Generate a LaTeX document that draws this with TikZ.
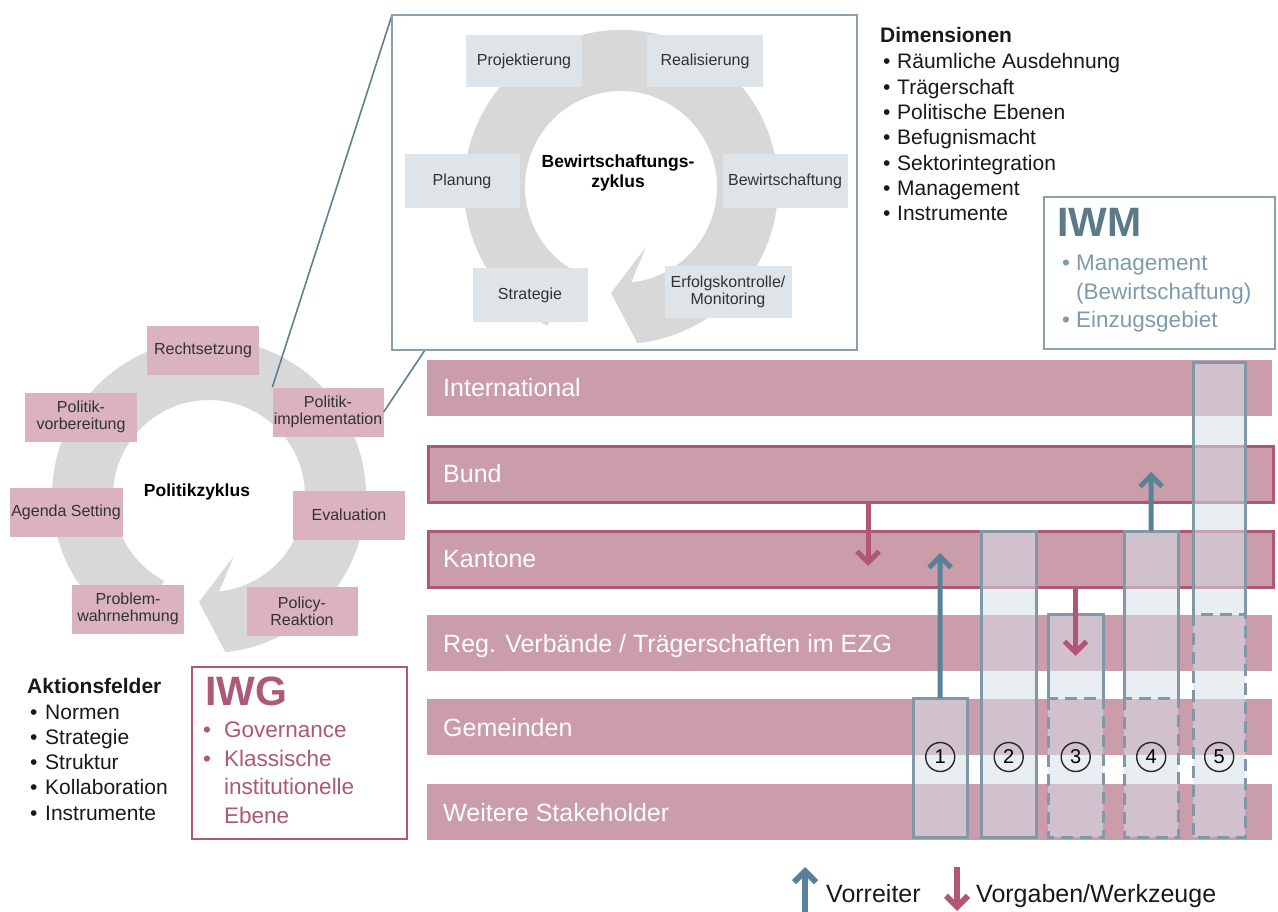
\documentclass[tikz,border=0pt]{standalone}
\usepackage{fontspec}
\setmainfont{Liberation Sans}
\usetikzlibrary{arrows.meta}

\definecolor{ringgray}{RGB}{216,216,216}
\definecolor{cyclebox}{RGB}{222,228,232}
\definecolor{pinkbox}{RGB}{218,178,192}
\definecolor{barpink}{RGB}{203,156,170}
\definecolor{barline}{RGB}{176,86,118}
\definecolor{tealline}{RGB}{95,128,145}
\definecolor{framegray}{RGB}{135,160,172}
\definecolor{colfill}{RGB}{214,225,232}
\definecolor{colline}{RGB}{128,152,168}
\definecolor{iwmtitle}{RGB}{90,122,140}
\definecolor{iwmtext}{RGB}{125,155,172}
\definecolor{iwgcol}{RGB}{172,88,118}
\definecolor{txtdark}{RGB}{50,50,50}
\definecolor{arrowteal}{RGB}{88,130,152}
\definecolor{arrowpink}{RGB}{178,86,120}

\newcommand{\szBox}{\fontsize{16}{17}\selectfont}
\newcommand{\szCenter}{\fontsize{17.5}{20}\selectfont\bfseries}
\newcommand{\szList}{\fontsize{21}{25}\selectfont}
\newcommand{\szSide}{\fontsize{22.5}{28}\selectfont}
\newcommand{\szTitle}{\fontsize{41}{45}\selectfont\bfseries}
\newcommand{\szBar}{\fontsize{25}{30}\selectfont}
\newcommand{\itembul}[1]{\makebox[#1][l]{•}}

% circular process arrow with its head at the bottom, centred at (#1,#2)
\newcommand{\cyclering}[2]{%
  \begin{scope}[shift={(#1,#2)}]
    \fill[ringgray] (118:157) arc[start angle=118, end angle=444, radius=157]
      -- (-10,106) -- (25,60) -- (444:96)
      arc[start angle=444, end angle=118, radius=96] -- cycle;
  \end{scope}}

\begin{document}
\begin{tikzpicture}[x=1pt, y=-1pt,
  cyc/.style={fill=cyclebox, minimum width=#1, minimum height=52pt, inner sep=0pt,
    text=txtdark, font=\szBox, align=center},
  pol/.style={fill=pinkbox, minimum width=#1, minimum height=49pt, inner sep=0pt,
    text=txtdark, font=\szBox, align=center},
  ctitle/.style={font=\szCenter, align=center, text=black, inner sep=0pt},
  listtxt/.style={anchor=base west, inner sep=0pt, font=\szList, text=black!90},
  sidetxt/.style={anchor=base west, inner sep=0pt, font=\szSide},
  bar/.style={fill=barpink, anchor=north west, minimum width=845pt, minimum height=56pt, inner sep=0pt},
  barframe/.style={bar, draw=barline, line width=3pt},
  barlabel/.style={anchor=base west, inner sep=0pt, font=\szBar, text=white},
  colpart/.style={fill=colfill, fill opacity=0.55, anchor=north west, inner sep=0pt, minimum width=#1},
  colsolid/.style={draw=colline, line width=3pt},
  coldash/.style={draw=colline, line width=3pt, dash pattern=on 12pt off 7pt},
  numcirc/.style={circle, draw=black!85, line width=1.4pt, minimum size=29pt, inner sep=0pt,
    font=\fontsize{20}{20}\selectfont},
  uparrow/.style={draw=arrowteal, line width=5pt, -{Straight Barb[length=11pt,width=22pt]}},
  downarrow/.style={draw=arrowpink, line width=5pt, -{Straight Barb[length=11pt,width=22pt]}},
  callout/.style={draw=tealline, line width=1.6pt}]

\useasboundingbox[fill=white] (0,0) rectangle (1278,912);

% ---------- policy cycle ----------
\cyclering{209}{496}
\node[pol=112] (recht) at (203,350) {Rechtsetzung};
\node[pol=112] (vorb) at (81,417) {Politik-\\vorbereitung};
\node[pol=111] (impl) at (328,412) {Politik-\\implementation};
\node[pol=113] (agenda) at (66,512) {Agenda Setting};
\node[pol=112] (eval) at (349,515) {Evaluation};
\node[pol=112] (problem) at (128,609) {Problem-\\wahrnehmung};
\node[pol=111] (policy) at (302,611) {Policy-\\Reaktion};
\node[ctitle] (polz) at (197,492) {Politikzyklus};

% ---------- management cycle (detail box) ----------
\coordinate (zbcorner) at (392,15);
\coordinate (zbfoot) at (425,350);
\draw[callout] (zbcorner) -- (impl.north west);
\draw[callout] (zbfoot) -- (impl.east);
\node[draw=framegray, line width=1.8pt, fill=white, minimum width=465pt, minimum height=335pt,
  inner sep=0pt] (zoombox) at (624.5,182.5) {};

\cyclering{621}{187}
\node[cyc=116] (proj) at (524,61) {Projektierung};
\node[cyc=116] (real) at (705,61) {Realisierung};
\node[cyc=115, minimum height=54pt] (plan) at (462,181) {Planung};
\node[cyc=125, minimum height=54pt] (bew) at (785,181) {Bewirtschaftung};
\node[cyc=115, minimum height=54pt] (strat) at (530,295) {Strategie};
\node[cyc=127] (erf) at (728,292) {Erfolgskontrolle/\\Monitoring};
\node[ctitle] (bewz) at (618,173) {Bewirtschaftungs-\\zyklus};

% ---------- Dimensionen ----------
\node[listtxt, font=\szList\bfseries] (dimtitle) at (880,43) {Dimensionen};
\foreach \t [count=\i] in {Räumliche Ausdehnung, Trägerschaft, Politische Ebenen,
  Befugnismacht, Sektorintegration, Management, Instrumente}
  \node[listtxt] (dim\i) at (883,{69+25.3*(\i-1)}) {\itembul{14pt}\t};

% ---------- Aktionsfelder ----------
\node[listtxt, font=\szList\bfseries] (akttitle) at (27,693) {Aktionsfelder};
\foreach \t [count=\i] in {Normen, Strategie, Struktur, Kollaboration, Instrumente}
  \node[listtxt] (akt\i) at (30,{719+25.3*(\i-1)}) {\itembul{15pt}\t};

% ---------- IWM box ----------
\node[draw=framegray, line width=2pt, minimum width=231pt, minimum height=152pt, inner sep=0pt]
  (iwmbox) at (1159.5,273) {};
\node[sidetxt, font=\szTitle, text=iwmtitle] (iwm) at (1057,237) {IWM};
\node[sidetxt, text=iwmtext] (iwm1) at (1062,271) {\itembul{14pt}Management};
\node[sidetxt, text=iwmtext] (iwm2) at (1076,300) {(Bewirtschaftung)};
\node[sidetxt, text=iwmtext] (iwm3) at (1062,327) {\itembul{14pt}Einzugsgebiet};

% ---------- IWG box ----------
\node[draw=iwgcol, line width=2pt, minimum width=215pt, minimum height=172pt, inner sep=0pt]
  (iwgbox) at (299.5,753) {};
\node[sidetxt, font=\szTitle, text=iwgcol] (iwg) at (205,705) {IWG};
\node[sidetxt, text=iwgcol] (iwg1) at (203,737) {\itembul{21pt}Governance};
\node[sidetxt, text=iwgcol] (iwg2) at (203,766) {\itembul{21pt}Klassische};
\node[sidetxt, text=iwgcol] (iwg3) at (224,794) {institutionelle};
\node[sidetxt, text=iwgcol] (iwg4) at (224,823) {Ebene};

% ---------- levels ----------
\node[bar] (intl) at (427,360) {};
\node[barframe] (bund) at (427,445) {};
\node[barframe] (kant) at (427,530) {};
\node[bar] (reg) at (427,615) {};
\node[bar] (gem) at (427,699) {};
\node[bar] (stake) at (427,784) {};
\node[barlabel] (lintl) at (443,396) {International};
\node[barlabel] (lbund) at (443,482) {Bund};
\node[barlabel] (lkant) at (443,567) {Kantone};
\node[barlabel] (lreg) at (443,652) {Reg. Verbände / Trägerschaften im EZG};
\node[barlabel] (lgem) at (443,736) {Gemeinden};
\node[barlabel] (lstake) at (443,821) {Weitere Stakeholder};

% ---------- actor columns ----------
% 1
\node[colpart=54pt, minimum height=139pt] (c1) at (913,698) {};
\draw[colsolid] (c1.north west) rectangle (c1.south east);
% 2
\node[colpart=55pt, minimum height=306pt] (c2) at (981,531) {};
\draw[colsolid] (c2.north west) rectangle (c2.south east);
% 3
\node[colpart=55pt, minimum height=84pt] (c3) at (1048,614) {};
\node[colpart=55pt, minimum height=139pt] (c3l) at (1048,698) {};
\draw[colsolid] (c3.south west) -- (c3.north west) -- (c3.north east) -- (c3.south east);
\draw[coldash] (c3l.north west) rectangle (c3l.south east);
% 4
\node[colpart=54pt, minimum height=167pt] (c4) at (1124,531) {};
\node[colpart=54pt, minimum height=139pt] (c4l) at (1124,698) {};
\draw[colsolid] (c4.south west) -- (c4.north west) -- (c4.north east) -- (c4.south east);
\draw[coldash] (c4l.north west) rectangle (c4l.south east);
% 5
\node[colpart=52pt, minimum height=252pt] (c5) at (1193,362) {};
\node[colpart=52pt, minimum height=223pt] (c5l) at (1193,614) {};
\draw[colsolid] (c5.south west) -- (c5.north west) -- (c5.north east) -- (c5.south east);
\draw[coldash] (c5l.north west) rectangle (c5l.south east);

% ---------- arrows between levels ----------
\coordinate (tipbk) at (868,566);
\draw[downarrow] (bund.south -| tipbk) -- (tipbk);
\coordinate (tip1) at (940,553);
\draw[uparrow] (c1.north) -- (tip1);
\coordinate (tip3) at (1075.5,656);
\draw[downarrow] (kant.south -| tip3) -- (tip3);
\coordinate (tip4) at (1151,472);
\draw[uparrow] (c4.north) -- (tip4);

% ---------- column numbers ----------
\node[numcirc] (n1) at (c1.north |- 0,757) {1};
\node[numcirc] (n2) at (c2.north |- 0,757) {2};
\node[numcirc] (n3) at (c3.north |- 0,757) {3};
\node[numcirc] (n4) at (c4.north |- 0,757) {4};
\node[numcirc] (n5) at (c5.north |- 0,757) {5};

% ---------- legend ----------
\coordinate (lgup0) at (805,912);
\coordinate (lgup1) at (805,867);
\draw[uparrow, line width=6pt] (lgup0) -- (lgup1);
\node[barlabel, text=black!90] (lgvor) at (826,902) {Vorreiter};
\coordinate (lgdn0) at (957,867);
\coordinate (lgdn1) at (957,911);
\draw[downarrow, line width=6pt] (lgdn0) -- (lgdn1);
\node[barlabel, text=black!90] (lgvorg) at (976,902) {Vorgaben/Werkzeuge};
\end{tikzpicture}
\end{document}
